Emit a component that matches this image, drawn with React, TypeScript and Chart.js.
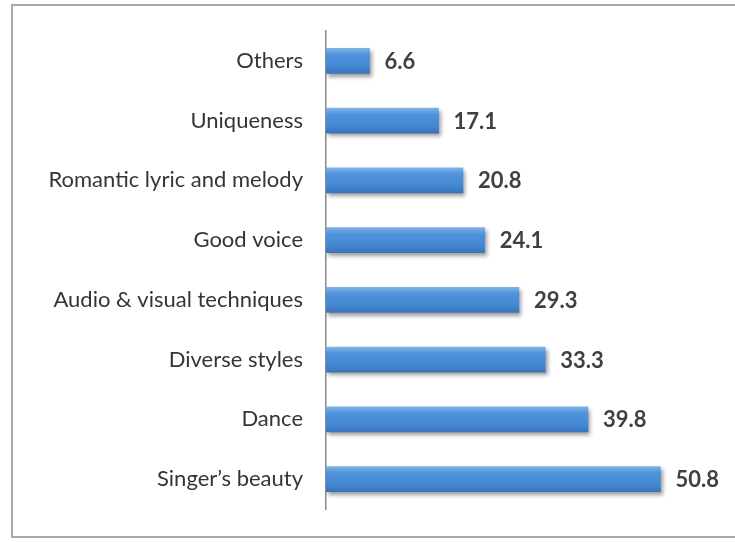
import React, { useEffect, useRef } from "react";
import { Chart, registerables } from "chart.js";

Chart.register(...registerables);

const categories = [
  "Others",
  "Uniqueness",
  "Romantic lyric and melody",
  "Good voice",
  "Audio & visual techniques",
  "Diverse styles",
  "Dance",
  "Singer\u2019s beauty",
];
const values = [6.6, 17.1, 20.8, 24.1, 29.3, 33.3, 39.8, 50.8];
const valueLabels = ["6.6", "17.1", "20.8", "24.1", "29.3", "33.3", "39.8", "50.8"];

const FONT = "Lato, 'Open Sans', sans-serif";

const shadowPlugin = {
  id: "barShadow",
  beforeDatasetsDraw(chart: any) {
    const ctx = chart.ctx;
    ctx.save();
    ctx.shadowColor = "rgba(0,0,0,0.38)";
    ctx.shadowBlur = 4;
    ctx.shadowOffsetX = 2;
    ctx.shadowOffsetY = 3;
  },
  afterDatasetsDraw(chart: any) {
    const ctx = chart.ctx;
    ctx.restore();
    const meta = chart.getDatasetMeta(0);
    ctx.save();
    ctx.font = `bold 22px ${FONT}`;
    ctx.fillStyle = "#404040";
    ctx.textAlign = "left";
    ctx.textBaseline = "middle";
    meta.data.forEach((el: any, i: number) => {
      ctx.fillText(valueLabels[i], el.x + 15, el.y + 1);
    });
    ctx.restore();
  },
};

export default function App() {
  const ref = useRef<HTMLCanvasElement>(null);
  useEffect(() => {
    const canvas = ref.current!;
    const chart = new Chart(canvas, {
      type: "bar",
      data: {
        labels: categories,
        datasets: [
          {
            data: values,
            backgroundColor: (c: any) => {
              const chart = c.chart;
              const ys = chart.scales?.y;
              if (!ys || c.dataIndex === undefined) return "#4a8fd8";
              const cy = ys.getPixelForValue(c.dataIndex);
              if (!Number.isFinite(cy)) return "#4a8fd8";
              const g = chart.ctx.createLinearGradient(0, cy - 12.5, 0, cy + 12.5);
              g.addColorStop(0, "#7fb2e6");
              g.addColorStop(0.25, "#4f93dc");
              g.addColorStop(0.7, "#4488d4");
              g.addColorStop(1, "#3a74b8");
              return g;
            },
            borderWidth: 0,
            barThickness: 25,
          },
        ],
      },
      options: {
        indexAxis: "y",
        animation: false,
        responsive: false,
        maintainAspectRatio: false,
        layout: { padding: { top: 31, bottom: 33, right: 14, left: 0 } },
        plugins: {
          legend: { display: false },
          tooltip: { enabled: false },
        },
        scales: {
          x: {
            display: false,
            min: 0,
            max: 60,
          },
          y: {
            afterFit: (s: any) => {
              s.width = 326;
              s.paddingTop = 0;
              s.paddingBottom = 0;
            },
            grid: { display: false, drawTicks: false },
            border: { display: true, color: "#8a8a8a", width: 1.5 },
            ticks: {
              padding: 23,
              color: "#353535",
              font: { family: FONT, size: 22 },
            },
          },
        },
      },
      plugins: [shadowPlugin],
    });
    return () => chart.destroy();
  }, []);
  return (
    <div style={{ position: "fixed", left: 0, top: 0, width: 735, height: 542, background: "#fff", overflow: "hidden" }}>
      <canvas ref={ref} width={735} height={542} style={{ position: "absolute", left: 0, top: 0 }} />
      <div
        style={{
          position: "absolute",
          left: 11,
          top: 4,
          width: 740,
          height: 530,
          borderLeft: "2px solid #a8a8a8",
          borderTop: "2px solid #a8a8a8",
          borderBottom: "2px solid #a8a8a8",
          pointerEvents: "none",
        }}
      />
    </div>
  );
}
